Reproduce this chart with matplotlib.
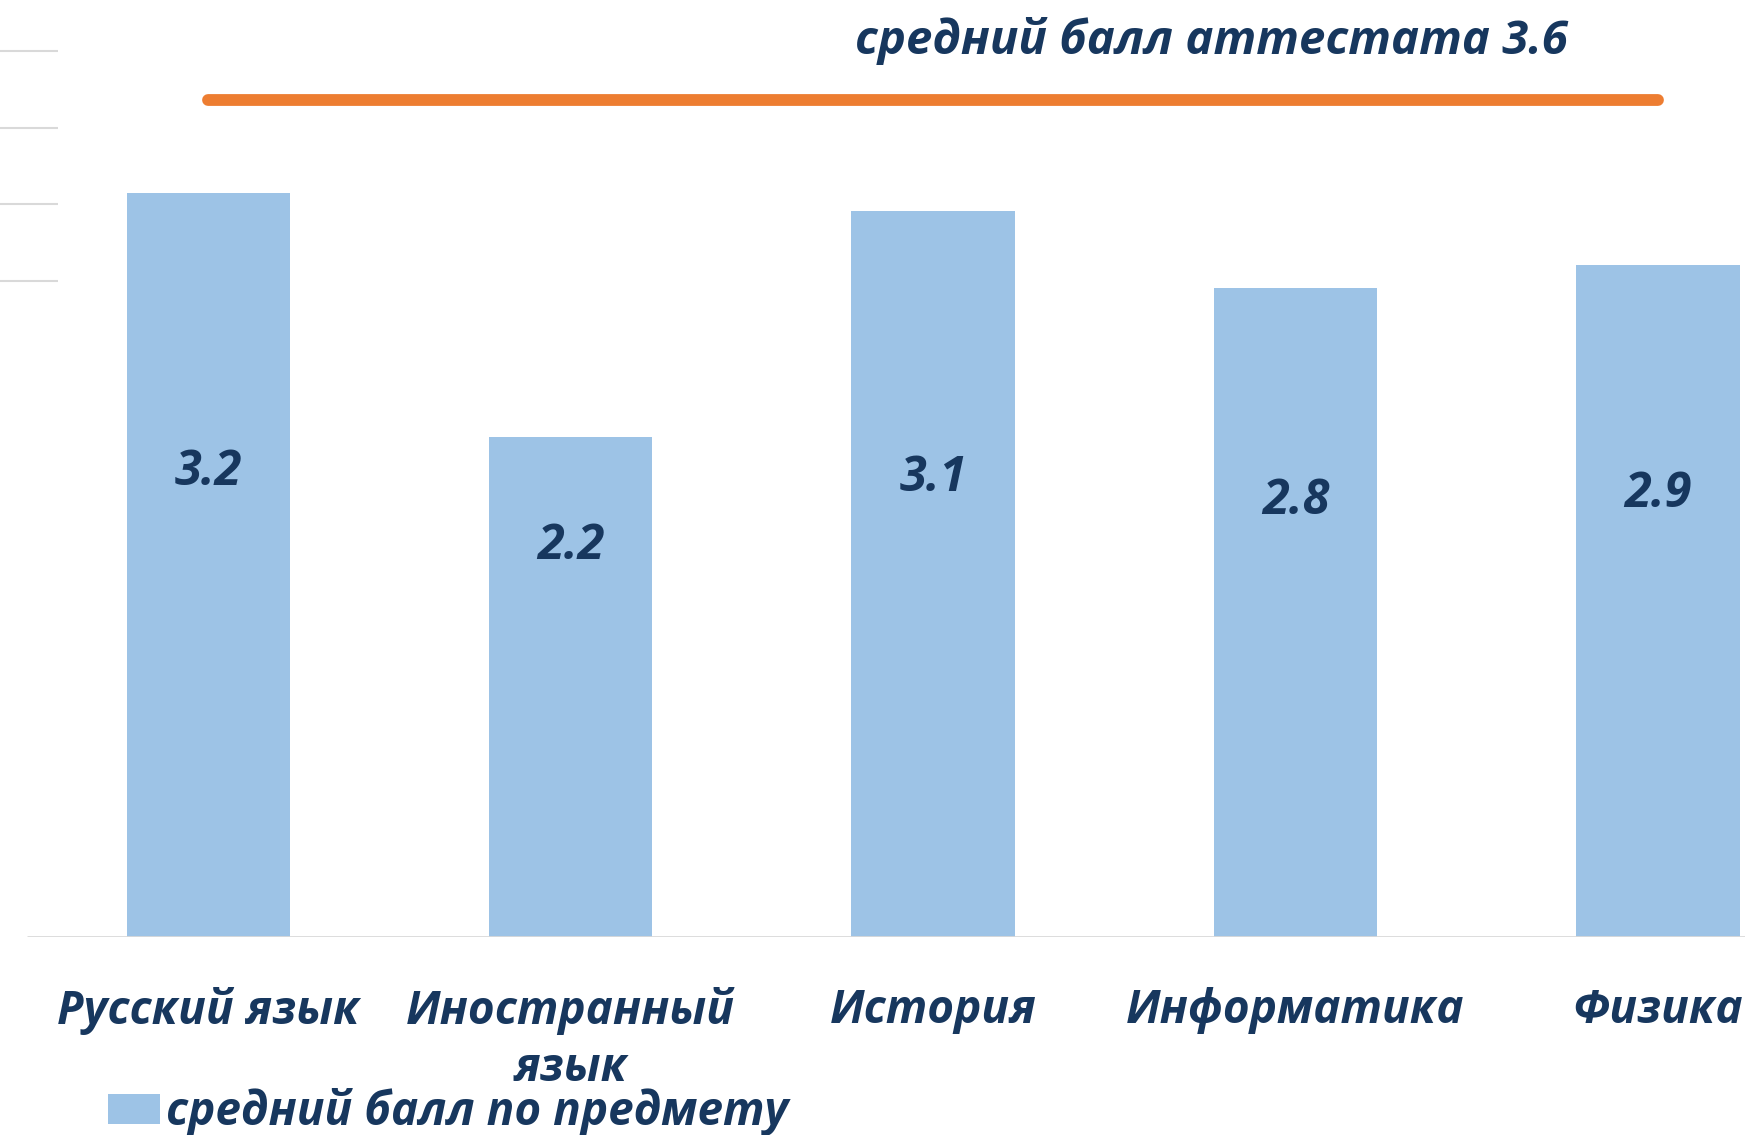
import matplotlib
matplotlib.use("Agg")
import matplotlib.pyplot as plt
from matplotlib.patches import Patch

# ---- data ----
subjects = ["Русский язык", "Иностранный\nязык", "История", "Информатика", "Физика"]
subject_scores = [3.2, 2.15, 3.12, 2.79, 2.89]
value_labels = ["3.2", "2.2", "3.1", "2.8", "2.9"]
certificate_avg = 3.6
certificate_label = "средний балл аттестата 3.6"
legend_label = "средний балл по предмету"
grid_levels = [2.82, 3.15, 3.48, 3.81]

BAR = "#9DC3E6"
ORANGE = "#ED7D31"
NAVY = "#17375E"
GRID = "#D9D9D9"
FONT = ["Open Sans", "DejaVu Sans"]

W, H = 1745, 1135
fig = plt.figure(figsize=(W / 100, H / 100), dpi=100)
fig.patch.set_facecolor("white")

base_px = 937
unit_px = 232.6
ax = fig.add_axes([0, (H - base_px) / H, 1, base_px / H])
ax.set_facecolor("none")
ax.set_ylim(0, base_px / unit_px)
ax.set_xlim(-0.574, 4.24)

x = list(range(len(subjects)))
ax.bar(x, subject_scores, width=0.45, color=BAR, zorder=2)

# faint gridline stubs on the left
for g in grid_levels:
    ax.hlines(g, -0.574, -0.414, color=GRID, lw=1.5, zorder=1)

# baseline
ax.hlines(0, -0.5, 4.24, color=GRID, lw=2, zorder=3)

# certificate average line
ax.plot([x[0], x[-1]], [certificate_avg, certificate_avg], color=ORANGE,
        lw=8.5, solid_capstyle="round", zorder=4)

# value labels inside bars
for xi, v, lab in zip(x, subject_scores, value_labels):
    ax.text(xi, 0.3 * v + 1.035, lab, ha="center", va="center",
            fontsize=35, fontweight="bold", fontstyle="italic",
            color=NAVY, family=FONT, zorder=5)

for s in ax.spines.values():
    s.set_visible(False)
ax.set_yticks([])
ax.set_xticks(x)
ax.set_xticklabels(subjects, fontsize=33, fontweight="bold", fontstyle="italic",
                   color=NAVY, family=FONT, linespacing=1.28)
for t in ax.get_xticklabels():
    t.set_multialignment("center")
ax.tick_params(axis="x", length=0, pad=36)

# title-like annotation
fig.text(1211 / W, 1 - 41 / H, certificate_label, ha="center", va="center",
         fontsize=34, fontweight="bold", fontstyle="italic", color=NAVY, family=FONT)

# legend
fs_leg = 33
fs_px = fs_leg * 100 / 72
handle = Patch(facecolor=BAR, edgecolor="none")
leg = fig.legend([handle], [legend_label], loc="center left",
                 bbox_to_anchor=(108 / W, 1 - 1112 / H), frameon=False,
                 borderpad=0, borderaxespad=0, handletextpad=0.12,
                 handlelength=52 / fs_px, handleheight=29 / fs_px,
                 prop={"family": FONT, "weight": "bold", "style": "italic", "size": fs_leg})
for t in leg.get_texts():
    t.set_color(NAVY)

fig.savefig("out.png", dpi=100, facecolor="white")
